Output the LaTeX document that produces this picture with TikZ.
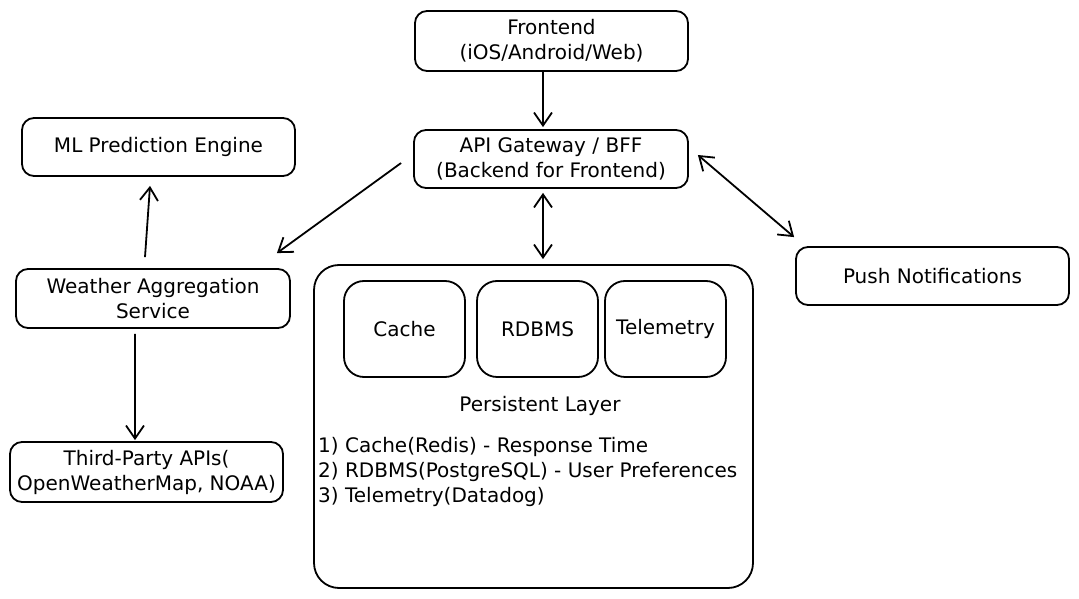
\documentclass[tikz,border=0pt]{standalone}
\usepackage{fontspec}
\setmainfont{DejaVu Sans}
\usetikzlibrary{arrows.meta}
\tikzset{
  sysbox/.style={draw,line width=1.8bp,rounded corners=12bp,minimum width=273bp,minimum height=58bp,align=center,inner sep=0pt},
  storebox/.style={draw,line width=1.8bp,rounded corners=20bp,minimum width=121bp,minimum height=96bp,inner sep=0pt},
  link/.style={line width=1.8bp,-{Straight Barb[length=13bp,width=18bp,line width=1.8bp]}},
  duplex/.style={line width=1.8bp,{Straight Barb[length=13bp,width=18bp,line width=1.8bp]}-{Straight Barb[length=13bp,width=18bp,line width=1.8bp]}},
}
\begin{document}
\begin{tikzpicture}[font=\fontsize{20bp}{25bp}\selectfont]
\useasboundingbox (0bp,0bp) rectangle (1079bp,599bp);
%%
\node (node_front) at (551.5bp,558bp) [sysbox,minimum height=60bp] {Frontend\\(iOS/Android/Web)};
  \node (node_api) at (551bp,440bp) [sysbox,minimum width=274bp] {API Gateway / BFF\\(Backend for Frontend)};
  \node (node_ml) at (158.5bp,452bp) [sysbox] {ML Prediction Engine};
  \node (node_weather) at (153bp,300.5bp) [sysbox,minimum width=274bp,minimum height=59bp] {Weather Aggregation\\Service};
  \node (node_third) at (146.5bp,127bp) [sysbox,minimum height=60bp] {Third-Party APIs(\\OpenWeatherMap, NOAA)};
  \node (node_push) at (932.5bp,323bp) [sysbox] {Push Notifications};
%
\node (node_layer) at (533.5bp,172.5bp) [draw,line width=1.8bp,rounded corners=25bp,minimum width=439bp,minimum height=323bp,inner sep=0pt] {};
  \node (node_cache) at (404.5bp,270bp) [storebox] {Cache};
  \node (node_rdbms) at (537.5bp,270bp) [storebox] {RDBMS};
  \node (node_tele) at (665.5bp,270bp) [storebox] {Telemetry};
  \node (node_title) at (540bp,193bp) [draw=none] {Persistent Layer};
  \node (node_list) at (318bp,162bp) [anchor=north west,align=left,inner sep=0pt] {1) Cache(Redis) - Response Time\\2) RDBMS(PostgreSQL) - User Preferences\\3) Telemetry(Datadog)};
%
\draw [link] ([xshift=-8.5bp,yshift=1bp]node_front.south) -- ([xshift=-8bp,yshift=2bp]node_api.north);
  \draw [link] ([xshift=-12bp,yshift=-4bp]node_api.west) -- ([xshift=-14bp,yshift=15bp]node_weather.north east);
  \draw [link] ([xshift=-8bp,yshift=11bp]node_weather.north) -- ([xshift=-8.5bp,yshift=-9bp]node_ml.south);
  \draw [link] ([xshift=-18bp,yshift=-5bp]node_weather.south) -- ([xshift=-11.5bp,yshift=1bp]node_third.north);
  \draw [duplex] ([xshift=-8bp,yshift=-4bp]node_api.south) -- ([xshift=9.5bp,yshift=5bp]node_layer.north);
  \draw [duplex] ([xshift=9bp,yshift=4bp]node_api.east) -- ([xshift=-1bp,yshift=9bp]node_push.north west);
%
\end{tikzpicture}
\end{document}
